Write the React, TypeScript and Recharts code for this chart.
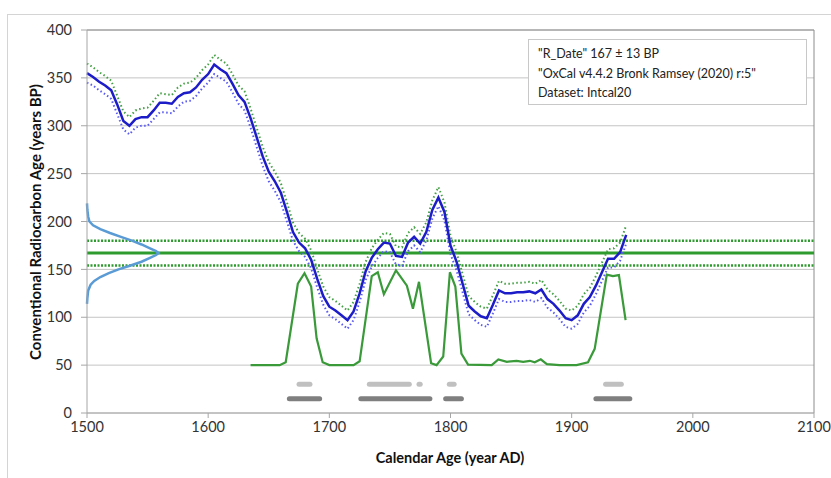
import { LineChart, Line, XAxis, YAxis, CartesianGrid, ReferenceLine } from "recharts";

// calibration curve (IntCal20) at 5-year steps
const calYears = [
  1500, 1505, 1510, 1515, 1520, 1525, 1530, 1535, 1540, 1545, 1550, 1555, 1560, 1565, 1570,
  1575, 1580, 1585, 1590, 1595, 1600, 1605, 1610, 1615, 1620, 1625, 1630, 1635, 1640, 1645,
  1650, 1655, 1660, 1665, 1670, 1675, 1680, 1685, 1690, 1695, 1700, 1705, 1710, 1715, 1720,
  1725, 1730, 1735, 1740, 1745, 1750, 1755, 1760, 1765, 1770, 1775, 1780, 1785, 1790, 1795,
  1800, 1805, 1810, 1815, 1820, 1825, 1830, 1835, 1840, 1845, 1850, 1855, 1860, 1865, 1870,
  1875, 1880, 1885, 1890, 1895, 1900, 1905, 1910, 1915, 1920, 1925, 1930, 1935, 1940, 1945,
];
const curveMid = [
  355, 351, 346, 342, 337, 322, 305, 300, 307, 309, 309, 316, 324, 324, 323,
  330, 334, 335, 340, 348, 354, 364, 359, 355, 344, 332, 325, 308, 288, 268,
  252, 242, 230, 210, 189, 178, 172, 160, 140, 122, 111, 107, 102, 97, 106,
  125, 148, 162, 171, 178, 177, 164, 163, 178, 184, 177, 189, 212, 225, 210,
  175, 158, 135, 112, 106, 101, 99, 113, 128, 125, 125, 126, 126, 127, 125,
  129, 119, 114, 107, 99, 97, 102, 114, 121, 133, 147, 161, 161, 168, 186,
];
const curveUpper = [
  365, 361, 356, 352, 347, 331, 315, 309, 316, 318, 319, 326, 334, 333, 332,
  340, 344, 345, 350, 358, 364, 374, 369, 365, 354, 342, 336, 318, 298, 278,
  262, 252, 240, 220, 199, 188, 182, 170, 150, 132, 121, 117, 112, 107, 116,
  135, 158, 172, 181, 188, 187, 174, 173, 188, 194, 187, 199, 222, 236, 220,
  185, 168, 145, 122, 116, 111, 109, 123, 138, 135, 135, 136, 136, 137, 135,
  139, 129, 124, 117, 109, 107, 112, 124, 131, 143, 157, 171, 172, 178, 196,
];
const curveLower = [
  345, 342, 337, 333, 328, 312, 296, 291, 298, 300, 300, 307, 314, 314, 313,
  320, 325, 326, 331, 339, 345, 354, 350, 346, 335, 323, 316, 298, 278, 258,
  242, 232, 220, 200, 180, 169, 163, 151, 131, 113, 102, 98, 93, 88, 97,
  116, 139, 153, 162, 169, 168, 155, 154, 169, 175, 168, 180, 203, 216, 201,
  166, 149, 126, 103, 97, 92, 90, 104, 119, 116, 116, 117, 117, 118, 116,
  120, 110, 105, 98, 90, 88, 93, 105, 112, 124, 138, 152, 152, 159, 177,
];

// calibrated probability distribution (drawn on a baseline of 50)
const distYears = [
  1635, 1659, 1664, 1674, 1679.5, 1685, 1689.5, 1694.5, 1700, 1720, 1725, 1735, 1740, 1745,
  1755, 1764, 1769, 1774, 1784, 1788.5, 1794, 1799.5, 1804, 1809, 1814.5, 1834, 1839.5,
  1846.5, 1854.5, 1860, 1865.5, 1869.5, 1874.5, 1879.5, 1890, 1904, 1913.5, 1919, 1929,
  1934, 1939, 1944.5,
];
const distValues = [
  50, 50, 53, 135, 146, 132, 78, 53, 50, 50, 54, 143, 147, 124,
  149, 133, 109, 137, 52, 50, 59, 147, 132, 62, 50.5, 50, 56,
  53.5, 54.5, 53.5, 54.5, 53, 56, 51, 50, 50, 53, 67, 144.5,
  143, 144, 97,
];

// measured date shown as a sideways curve on the y axis
const bellValues = [
  219, 212, 205, 200, 196, 192, 188, 184, 180, 176, 172, 169, 167,
  165, 162, 158, 154, 150, 146, 142, 138, 134, 128, 120, 114,
];
const bellYears = [
  1500, 1500.3, 1501, 1502, 1505, 1511, 1519, 1528, 1537, 1545, 1552, 1557, 1559,
  1557, 1552, 1545, 1536, 1526, 1518, 1511, 1506, 1503, 1501, 1500.3, 1500,
];

// calibrated ranges (68.2% and 95.4%)
const range68 = [[1675, 1684], [1733, 1766], [1774, 1775], [1799, 1803], [1928, 1941]];
const range95 = [[1667, 1692], [1726, 1783], [1796, 1809], [1920, 1948]];

const xTicks = [1500, 1600, 1700, 1800, 1900, 2000, 2100];
const yTicks = [0, 50, 100, 150, 200, 250, 300, 350, 400];

const rDate = 167;
const rError = 13;

const legendLines = [
  '"R_Date" 167 ± 13 BP',
  '"OxCal v4.4.2 Bronk Ramsey (2020) r:5"',
  "Dataset: Intcal20",
];

const toPoints = (xs: number[], ys: number[]) => xs.map((x, i) => ({ x, y: ys[i] }));

const font = "Lato, 'Open Sans', sans-serif";

const App = () => {
  const tickStyle = { fontFamily: font, fontSize: 14.5, fill: "#333" };

  return (
    <div style={{ position: "absolute", left: 0, top: 0, width: 831, height: 478, background: "#fff" }}>
      <div
        style={{
          position: "absolute",
          left: 7,
          top: 14,
          right: 0,
          bottom: 0,
          borderLeft: "1px solid #d4d4d4",
          borderTop: "1px solid #d4d4d4",
        }}
      />
      <LineChart
        width={831}
        height={478}
        margin={{ top: 30, right: 17, bottom: 35, left: 32 }}
        style={{ position: "absolute", left: 0, top: 0 }}
      >
        <CartesianGrid vertical={false} stroke="#c4c4c4" />
        <XAxis
          type="number"
          dataKey="x"
          domain={[1500, 2100]}
          ticks={xTicks}
          height={30}
          tickSize={5}
          tickMargin={4}
          stroke="#a6a6a6"
          tick={tickStyle}
        />
        <YAxis
          type="number"
          dataKey="y"
          domain={[0, 400]}
          ticks={yTicks}
          width={55}
          tickSize={6}
          tickMargin={9}
          stroke="#a6a6a6"
          tick={tickStyle}
        />
        <ReferenceLine y={400} stroke="#8c8c8c" />
        <ReferenceLine x={2100} stroke="#8c8c8c" />
        <ReferenceLine y={rDate + rError} stroke="#2e9b2e" strokeWidth={2.5} strokeDasharray="2 1.5" />
        <ReferenceLine y={rDate - rError} stroke="#2e9b2e" strokeWidth={2.5} strokeDasharray="2 1.5" />
        <ReferenceLine y={rDate} stroke="#2e9b2e" strokeWidth={3} />

        {range95.map(([a, b], i) => (
          <Line
            key={`r95-${i}`}
            data={[{ x: a, y: 15 }, { x: b, y: 15 }]}
            dataKey="y"
            stroke="#7f7f7f"
            strokeWidth={5}
            strokeLinecap="round"
            dot={false}
            isAnimationActive={false}
          />
        ))}
        {range68.map(([a, b], i) => (
          <Line
            key={`r68-${i}`}
            data={[{ x: a, y: 30 }, { x: b, y: 30 }]}
            dataKey="y"
            stroke="#c0c0c0"
            strokeWidth={5}
            strokeLinecap="round"
            dot={false}
            isAnimationActive={false}
          />
        ))}

        <Line
          data={toPoints(bellYears, bellValues)}
          dataKey="y"
          type="linear"
          stroke="#5b9bd5"
          strokeWidth={2.5}
          dot={false}
          isAnimationActive={false}
        />
        <Line
          data={toPoints(distYears, distValues)}
          dataKey="y"
          type="linear"
          stroke="#3a9a3a"
          strokeWidth={2.2}
          dot={false}
          isAnimationActive={false}
        />
        <Line
          data={toPoints(calYears, curveUpper)}
          dataKey="y"
          type="linear"
          stroke="#45a045"
          strokeWidth={2}
          strokeDasharray="1.5 2.5"
          dot={false}
          isAnimationActive={false}
        />
        <Line
          data={toPoints(calYears, curveLower)}
          dataKey="y"
          type="linear"
          stroke="#5a5af2"
          strokeWidth={2}
          strokeDasharray="1.5 2.5"
          dot={false}
          isAnimationActive={false}
        />
        <Line
          data={toPoints(calYears, curveMid)}
          dataKey="y"
          type="linear"
          stroke="#1c1cc8"
          strokeWidth={2.5}
          dot={false}
          isAnimationActive={false}
        />
      </LineChart>

      <div
        style={{
          position: "absolute",
          left: 528,
          top: 39,
          width: 279,
          height: 66,
          border: "1px solid #c8c8c8",
          background: "#fff",
          boxSizing: "border-box",
          padding: "4px 0 0 9px",
          fontFamily: font,
          fontSize: 12.5,
          lineHeight: "19.5px",
          color: "#222",
        }}
      >
        {legendLines.map((t) => (
          <div key={t} style={{ whiteSpace: "nowrap" }}>{t}</div>
        ))}
      </div>

      <div
        style={{
          position: "absolute",
          left: 450,
          top: 457,
          transform: "translate(-50%, -50%)",
          fontFamily: font,
          fontWeight: 700,
          fontSize: 14.5,
          color: "#111",
          whiteSpace: "nowrap",
        }}
      >
        Calendar Age (year AD)
      </div>
      <div
        style={{
          position: "absolute",
          left: 35,
          top: 222,
          transform: "translate(-50%, -50%) rotate(-90deg)",
          fontFamily: font,
          fontWeight: 700,
          fontSize: 15,
          color: "#111",
          whiteSpace: "nowrap",
        }}
      >
        Conventional Radiocarbon Age (years BP)
      </div>
    </div>
  );
};

export default App;
